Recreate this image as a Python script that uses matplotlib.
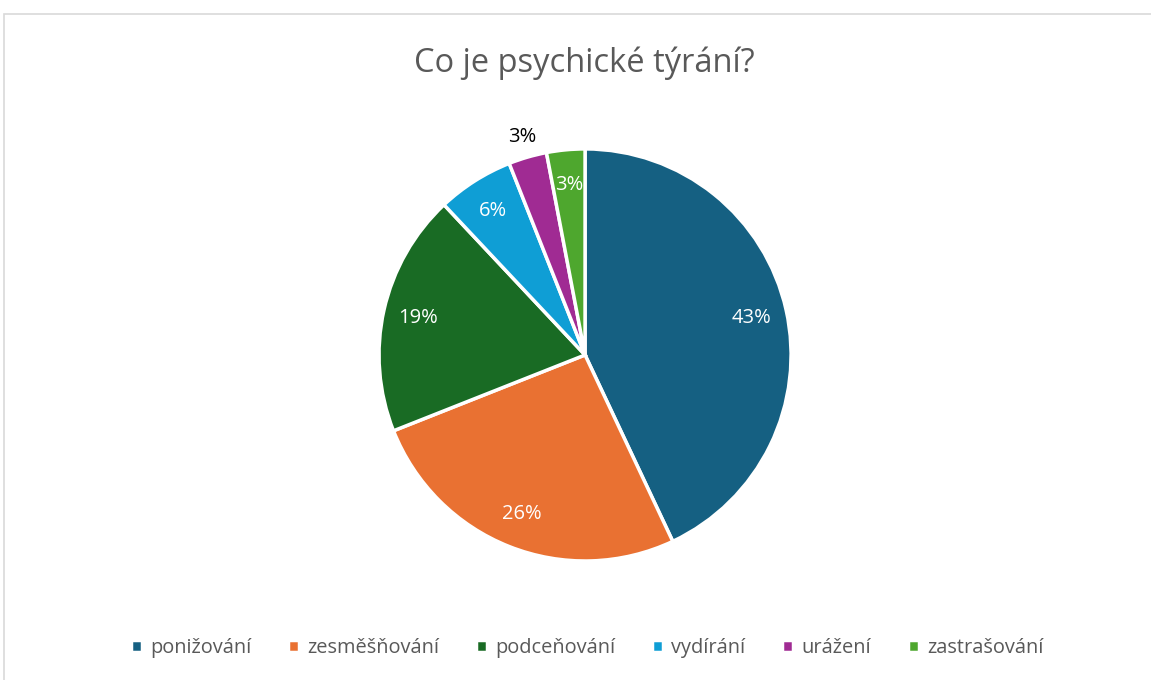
import matplotlib.pyplot as plt
from matplotlib.patches import Rectangle

# data
labels = ['ponižování', 'zesměšňování', 'podceňování', 'vydírání', 'urážení', 'zastrašování']
shares = [43, 26, 19, 6, 3, 3]
colors = ['#156082', '#E97132', '#196B24', '#0F9ED5', '#A02B93', '#4EA72E']

plt.rcParams['font.family'] = ['Open Sans', 'DejaVu Sans']

fig = plt.figure(figsize=(11.51, 6.80), dpi=100)

# chart frame
fig.patches.append(Rectangle((4 / 1151, -0.1), 1.2, 1 - 14 / 680 + 0.1,
                             transform=fig.transFigure, fill=False,
                             edgecolor='#D9D9D9', linewidth=1.2))

ax = fig.add_axes([0.3293, 0.175, 0.358, 0.606])
wedges, texts, autotexts = ax.pie(
    shares, colors=colors, startangle=90, counterclock=False,
    autopct='%1.0f%%', pctdistance=0.83,
    wedgeprops=dict(edgecolor='white', linewidth=2.5),
    textprops=dict(color='white', fontsize=14.5))

# the purple slice is too thin, its label goes outside
x, y = autotexts[4].get_position()
autotexts[4].set_position((x * 1.1 / 0.83, y * 1.1 / 0.83))
autotexts[4].set_color('black')
ax.set_aspect('equal')
ax.set_xlim(-1, 1)
ax.set_ylim(-1, 1)

fig.text(0.508, 1 - 63 / 680, 'Co je psychické týrání?', ha='center', va='center',
         fontsize=23.5, color='#595959')

fig.legend(wedges, labels, loc='center', bbox_to_anchor=(0.51, 1 - 648 / 680),
           ncol=6, frameon=False, fontsize=14.4, labelcolor='#595959',
           handlelength=0.55, handleheight=0.55, handletextpad=0.4, columnspacing=1.85)

fig.savefig('out.png', dpi=100)
